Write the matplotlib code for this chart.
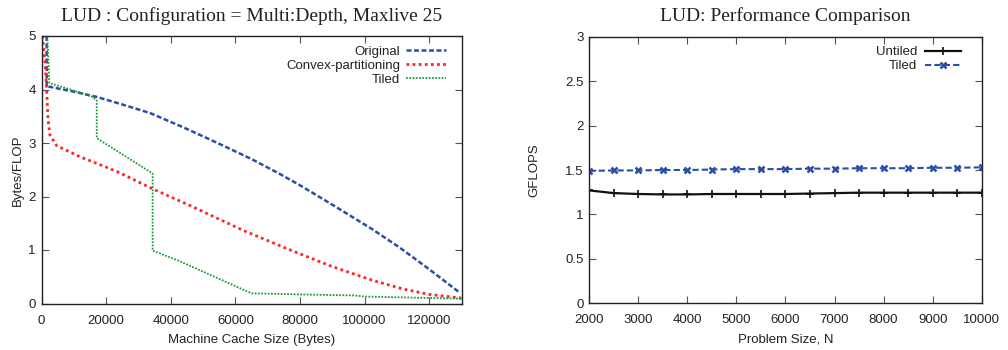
import matplotlib
matplotlib.use("Agg")
import matplotlib.pyplot as plt
import numpy as np

# ---- Left chart data ----
orig_x = [1600, 1600, 2600, 10000, 17200, 25000, 33600, 44000, 55200, 65000, 73200, 80000, 90200, 102600, 111000, 120000, 129500]
orig_y = [5.0, 4.05, 4.05, 3.96, 3.86, 3.72, 3.56, 3.29, 2.98, 2.70, 2.44, 2.21, 1.84, 1.38, 1.04, 0.64, 0.20]

conv_x = [300, 1100, 1600, 2000, 2600, 4700, 12000, 20000, 24300, 34500, 46000, 62300, 77000, 90000, 102600, 112000, 120000, 130000]
conv_y = [5.0, 4.5, 4.0, 3.45, 3.15, 2.95, 2.74, 2.55, 2.44, 2.14, 1.83, 1.37, 1.0, 0.69, 0.43, 0.27, 0.17, 0.10]

tiled_x = [1800, 2400, 9000, 15500, 17100, 17100, 34400, 34400, 42800, 65000, 80000, 97000, 100000, 130000]
tiled_y = [5.0, 4.12, 4.0, 3.87, 3.80, 3.09, 2.43, 0.99, 0.79, 0.19, 0.17, 0.15, 0.13, 0.09]

# ---- Right chart data ----
problem_n = [2000, 2500, 3000, 3500, 4000, 4500, 5000, 5500, 6000, 6500, 7000, 7500, 8000, 8500, 9000, 9500, 10000]
gflops_untiled = [1.27, 1.24, 1.23, 1.225, 1.225, 1.23, 1.23, 1.23, 1.23, 1.235, 1.24, 1.245, 1.245, 1.245, 1.245, 1.245, 1.245]
gflops_tiled = [1.49, 1.495, 1.495, 1.50, 1.50, 1.505, 1.51, 1.51, 1.51, 1.515, 1.515, 1.52, 1.52, 1.52, 1.525, 1.525, 1.53]

SANS = "Liberation Sans"
SERIF = "Liberation Serif"
plt.rcParams["font.family"] = SANS

BLUE = "#2b4ea6"
RED = "#ff2424"
GREEN = "#1f9a3c"
TXT = "#222222"

fig = plt.figure(figsize=(10.08, 3.5), dpi=100)

def style(ax):
    ax.tick_params(direction="in", top=True, right=True, length=5, width=0.8,
                   labelsize=9.5, colors="#555555", labelcolor=TXT)
    ax.tick_params(axis="x", pad=8)
    ax.tick_params(axis="y", pad=4)
    for s in ax.spines.values():
        s.set_linewidth(1.0)
        s.set_color("#222222")

# Left axes
ax1 = fig.add_axes([41.5/1008, 1-303.5/350, (461.5-41.5)/1008, (303.5-36)/350])
ax1.plot(orig_x, orig_y, color=BLUE, lw=1.8, ls=(0, (2, 1)), label="Original")
ax1.plot(conv_x, conv_y, color=RED, lw=2.0, ls=(0, (1, 1.2)), label="Convex-partitioning")
ax1.plot(tiled_x, tiled_y, color=GREEN, lw=1.3, ls=(0, (1, 0.8)), label="Tiled")
ax1.set_xlim(0, 130000)
ax1.set_ylim(0, 5)
ax1.set_xticks(np.arange(0, 130000, 20000))
ax1.set_yticks(np.arange(0, 6, 1))
style(ax1)
ax1.set_xlabel("Machine Cache Size (Bytes)", fontsize=9.5, color=TXT, labelpad=5)
ax1.set_ylabel("Bytes/FLOP", fontsize=9.5, color=TXT, labelpad=3)
ax1.set_title("LUD : Configuration = Multi:Depth, Maxlive 25", family=SERIF, fontsize=14, color=TXT, pad=11)
leg1 = ax1.legend(loc="upper right", markerfirst=False, frameon=False, fontsize=9.5,
                  handlelength=3.0, handletextpad=0.45, labelspacing=0.15,
                  borderaxespad=0.0, bbox_to_anchor=(0.975, 0.985))
for t in leg1.get_texts():
    t.set_color(TXT)

# Right axes
ax2 = fig.add_axes([589.3/1008, 1-303.3/350, (981.7-589.3)/1008, (303.3-36.7)/350])
ax2.plot(problem_n, gflops_untiled, color="#111111", lw=1.6, ls="-", marker="+", ms=6, mew=1.2, label="Untiled")
ax2.plot(problem_n, gflops_tiled, color=BLUE, lw=1.5, ls=(0, (3, 1.5)), marker="x", ms=5, mew=1.8, label="Tiled")
ax2.set_xlim(2000, 10000)
ax2.set_ylim(0, 3)
ax2.set_xticks(np.arange(2000, 10001, 1000))
ax2.set_yticks(np.arange(0, 3.01, 0.5))
ax2.set_yticklabels(["0", "0.5", "1", "1.5", "2", "2.5", "3"])
style(ax2)
ax2.set_xlabel("Problem Size, N", fontsize=9.5, color=TXT, labelpad=5)
ax2.set_ylabel("GFLOPS", fontsize=9.5, color=TXT, labelpad=18)
ax2.set_title("LUD: Performance Comparison", family=SERIF, fontsize=14, color=TXT, pad=11)
leg2 = ax2.legend(loc="upper right", markerfirst=False, frameon=False, fontsize=9.5,
                  handlelength=2.7, handletextpad=0.6, labelspacing=0.15,
                  borderaxespad=0.0, bbox_to_anchor=(0.96, 0.985))
for t in leg2.get_texts():
    t.set_color(TXT)

fig.savefig("out.png", dpi=100)
